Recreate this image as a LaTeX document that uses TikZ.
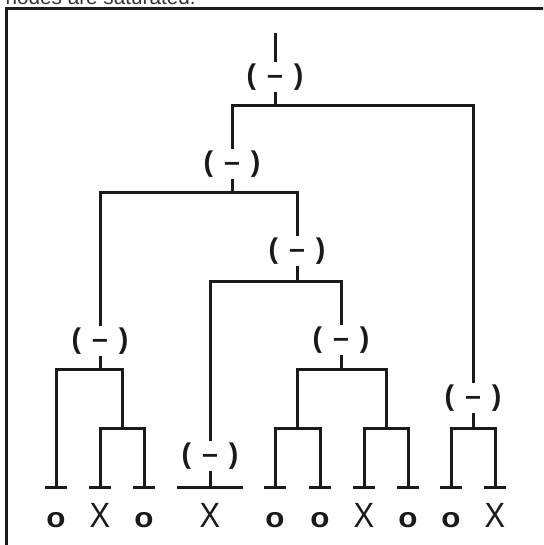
\documentclass[tikz,border=0pt]{standalone}
\usepackage{fontspec}
\newfontfamily\arialfam{Liberation Sans}
\definecolor{ink}{HTML}{1A1A1A}
\definecolor{captionink}{HTML}{333333}

\tikzset{
  treeline/.style={line width=3pt, draw=ink},
  opnode/.style={font=\arialfam\bfseries\fontsize{28.5}{28.5}\selectfont, text=ink,
                 inner sep=0pt, minimum height=30pt, minimum width=56pt},
  leafo/.style={font=\arialfam\bfseries\fontsize{28}{28}\selectfont, text=ink,
                inner sep=0pt, anchor=base},
  leafx/.style={font=\arialfam\fontsize{35}{35}\selectfont, text=ink,
                inner sep=0pt, anchor=base},
  caption/.style={font=\arialfam\fontsize{20.7}{20.7}\selectfont, text=captionink,
                  inner sep=0pt, anchor=base west},
}

\newcommand{\opsign}{(\hspace{11pt}–\hspace{11pt})}
\newcommand{\xleaf}{\scalebox{0.88}[1]{X}}
\newcommand{\oleaf}{\scalebox{1.12}[1]{o}}

\begin{document}
\begin{tikzpicture}[x=1pt, y=-1pt]
  \useasboundingbox (0,0) rectangle (543,545);
  \clip (0,0) rectangle (543,545);

  % caption line cut by the top edge, and the frame
  \node[caption] (cap) at (5.5,5) {nodes are saturated.};
  \draw[line width=3pt, draw=ink] (6,560) -- (6,9) -- (560,9);

  % operator nodes
  \coordinate (top) at (275,33);
  \node[opnode] (R) at (275,77) {\opsign};
  \coordinate (jR) at (275,106);
  \node[opnode] (A) at (232,164) {\opsign};
  \coordinate (jA) at (232,193);
  \node[opnode] (B) at (100,341) {\opsign};
  \coordinate (jB) at (100,369);
  \coordinate (jB2) at (122,428);
  \node[opnode] (C) at (297,251) {\opsign};
  \coordinate (jC) at (297,281);
  \node[opnode] (D) at (210,456) {\opsign};
  \node[opnode] (E) at (341,340) {\opsign};
  \coordinate (jE) at (341,369);
  \coordinate (jE1) at (297,428);
  \coordinate (jE2) at (386,428);
  \node[opnode] (F) at (473,398) {\opsign};
  \coordinate (jF) at (473,428);

  % leaf bars and leaf symbols
  \foreach \i/\x in {1/56,2/100,3/144,4/210,5/275,6/320,7/364,8/408,9/451,10/495}
    \coordinate (t\i) at (\x,487);
  \node[leafo] (l1)  at (56,527)  {\oleaf};
  \node[leafx] (l2)  at (100,527) {\xleaf};
  \node[leafo] (l3)  at (144,527) {\oleaf};
  \node[leafx] (l4)  at (210,527) {\xleaf};
  \node[leafo] (l5)  at (275,527) {\oleaf};
  \node[leafo] (l6)  at (320,527) {\oleaf};
  \node[leafx] (l7)  at (364,527) {\xleaf};
  \node[leafo] (l8)  at (408,527) {\oleaf};
  \node[leafo] (l9)  at (451,527) {\oleaf};
  \node[leafx] (l10) at (495,527) {\xleaf};

  \begin{scope}[treeline]
    \foreach \i in {1,2,3,5,6,7,8,9,10}
      \draw ([xshift=-11pt]t\i) -- ([xshift=11pt]t\i);
    \draw ([xshift=-33pt]t4) -- ([xshift=33pt]t4);

    \draw (top) -- (R.north);
    \draw (R.south) -- (jR);
    \draw (A.north) |- (jR) -| (F.north);

    \draw (A.south) -- (jA);
    \draw (B.north) |- (jA) -| (C.north);

    \draw (B.south) -- (jB);
    \draw (t1) |- (jB) -| (jB2);
    \draw (t2) |- (jB2) -| (t3);

    \draw (C.south) -- (jC);
    \draw (D.north) |- (jC) -| (E.north);
    \draw (D.south) -- (t4);

    \draw (E.south) -- (jE);
    \draw (jE1) |- (jE) -| (jE2);
    \draw (t5) |- (jE1) -| (t6);
    \draw (t7) |- (jE2) -| (t8);

    \draw (F.south) -- (jF);
    \draw (t9) |- (jF) -| (t10);
  \end{scope}
\end{tikzpicture}
\end{document}
